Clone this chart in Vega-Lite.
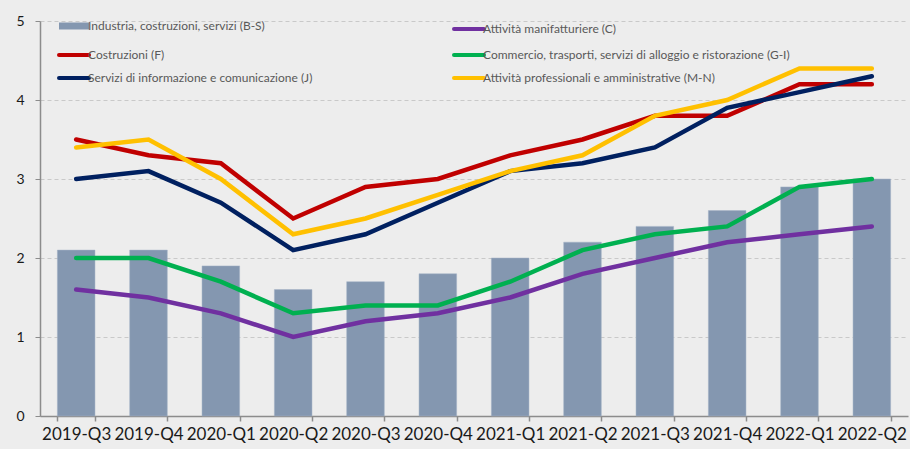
{
  "$schema": "https://vega.github.io/schema/vega-lite/v6.json",
  "autosize": {"type": "none"},
  "width": 868,
  "height": 395,
  "padding": {"left": 40, "top": 21, "right": 2, "bottom": 33},
  "background": "#ededed",
  "config": {
    "view": {"stroke": null},
    "font": "Lato",
    "axis": {"labelFont": "Lato", "titleFont": "Lato"},
    "legend": {"labelFont": "Lato"}
  },
  "datasets": {
    "d": [
      {"q": "2019-Q3", "s": "Industria, costruzioni, servizi (B-S)", "v": 2.1},
      {"q": "2019-Q4", "s": "Industria, costruzioni, servizi (B-S)", "v": 2.1},
      {"q": "2020-Q1", "s": "Industria, costruzioni, servizi (B-S)", "v": 1.9},
      {"q": "2020-Q2", "s": "Industria, costruzioni, servizi (B-S)", "v": 1.6},
      {"q": "2020-Q3", "s": "Industria, costruzioni, servizi (B-S)", "v": 1.7},
      {"q": "2020-Q4", "s": "Industria, costruzioni, servizi (B-S)", "v": 1.8},
      {"q": "2021-Q1", "s": "Industria, costruzioni, servizi (B-S)", "v": 2.0},
      {"q": "2021-Q2", "s": "Industria, costruzioni, servizi (B-S)", "v": 2.2},
      {"q": "2021-Q3", "s": "Industria, costruzioni, servizi (B-S)", "v": 2.4},
      {"q": "2021-Q4", "s": "Industria, costruzioni, servizi (B-S)", "v": 2.6},
      {"q": "2022-Q1", "s": "Industria, costruzioni, servizi (B-S)", "v": 2.9},
      {"q": "2022-Q2", "s": "Industria, costruzioni, servizi (B-S)", "v": 3.0},
      {"q": "2019-Q3", "s": "Attività manifatturiere (C)", "v": 1.6},
      {"q": "2019-Q4", "s": "Attività manifatturiere (C)", "v": 1.5},
      {"q": "2020-Q1", "s": "Attività manifatturiere (C)", "v": 1.3},
      {"q": "2020-Q2", "s": "Attività manifatturiere (C)", "v": 1.0},
      {"q": "2020-Q3", "s": "Attività manifatturiere (C)", "v": 1.2},
      {"q": "2020-Q4", "s": "Attività manifatturiere (C)", "v": 1.3},
      {"q": "2021-Q1", "s": "Attività manifatturiere (C)", "v": 1.5},
      {"q": "2021-Q2", "s": "Attività manifatturiere (C)", "v": 1.8},
      {"q": "2021-Q3", "s": "Attività manifatturiere (C)", "v": 2.0},
      {"q": "2021-Q4", "s": "Attività manifatturiere (C)", "v": 2.2},
      {"q": "2022-Q1", "s": "Attività manifatturiere (C)", "v": 2.3},
      {"q": "2022-Q2", "s": "Attività manifatturiere (C)", "v": 2.4},
      {"q": "2019-Q3", "s": "Costruzioni (F)", "v": 3.5},
      {"q": "2019-Q4", "s": "Costruzioni (F)", "v": 3.3},
      {"q": "2020-Q1", "s": "Costruzioni (F)", "v": 3.2},
      {"q": "2020-Q2", "s": "Costruzioni (F)", "v": 2.5},
      {"q": "2020-Q3", "s": "Costruzioni (F)", "v": 2.9},
      {"q": "2020-Q4", "s": "Costruzioni (F)", "v": 3.0},
      {"q": "2021-Q1", "s": "Costruzioni (F)", "v": 3.3},
      {"q": "2021-Q2", "s": "Costruzioni (F)", "v": 3.5},
      {"q": "2021-Q3", "s": "Costruzioni (F)", "v": 3.8},
      {"q": "2021-Q4", "s": "Costruzioni (F)", "v": 3.8},
      {"q": "2022-Q1", "s": "Costruzioni (F)", "v": 4.2},
      {"q": "2022-Q2", "s": "Costruzioni (F)", "v": 4.2},
      {"q": "2019-Q3", "s": "Commercio, trasporti, servizi di alloggio e ristorazione (G-I)", "v": 2.0},
      {"q": "2019-Q4", "s": "Commercio, trasporti, servizi di alloggio e ristorazione (G-I)", "v": 2.0},
      {"q": "2020-Q1", "s": "Commercio, trasporti, servizi di alloggio e ristorazione (G-I)", "v": 1.7},
      {"q": "2020-Q2", "s": "Commercio, trasporti, servizi di alloggio e ristorazione (G-I)", "v": 1.3},
      {"q": "2020-Q3", "s": "Commercio, trasporti, servizi di alloggio e ristorazione (G-I)", "v": 1.4},
      {"q": "2020-Q4", "s": "Commercio, trasporti, servizi di alloggio e ristorazione (G-I)", "v": 1.4},
      {"q": "2021-Q1", "s": "Commercio, trasporti, servizi di alloggio e ristorazione (G-I)", "v": 1.7},
      {"q": "2021-Q2", "s": "Commercio, trasporti, servizi di alloggio e ristorazione (G-I)", "v": 2.1},
      {"q": "2021-Q3", "s": "Commercio, trasporti, servizi di alloggio e ristorazione (G-I)", "v": 2.3},
      {"q": "2021-Q4", "s": "Commercio, trasporti, servizi di alloggio e ristorazione (G-I)", "v": 2.4},
      {"q": "2022-Q1", "s": "Commercio, trasporti, servizi di alloggio e ristorazione (G-I)", "v": 2.9},
      {"q": "2022-Q2", "s": "Commercio, trasporti, servizi di alloggio e ristorazione (G-I)", "v": 3.0},
      {"q": "2019-Q3", "s": "Servizi di informazione e comunicazione (J)", "v": 3.0},
      {"q": "2019-Q4", "s": "Servizi di informazione e comunicazione (J)", "v": 3.1},
      {"q": "2020-Q1", "s": "Servizi di informazione e comunicazione (J)", "v": 2.7},
      {"q": "2020-Q2", "s": "Servizi di informazione e comunicazione (J)", "v": 2.1},
      {"q": "2020-Q3", "s": "Servizi di informazione e comunicazione (J)", "v": 2.3},
      {"q": "2020-Q4", "s": "Servizi di informazione e comunicazione (J)", "v": 2.7},
      {"q": "2021-Q1", "s": "Servizi di informazione e comunicazione (J)", "v": 3.1},
      {"q": "2021-Q2", "s": "Servizi di informazione e comunicazione (J)", "v": 3.2},
      {"q": "2021-Q3", "s": "Servizi di informazione e comunicazione (J)", "v": 3.4},
      {"q": "2021-Q4", "s": "Servizi di informazione e comunicazione (J)", "v": 3.9},
      {"q": "2022-Q1", "s": "Servizi di informazione e comunicazione (J)", "v": 4.1},
      {"q": "2022-Q2", "s": "Servizi di informazione e comunicazione (J)", "v": 4.3},
      {"q": "2019-Q3", "s": "Attività professionali e amministrative (M-N)", "v": 3.4},
      {"q": "2019-Q4", "s": "Attività professionali e amministrative (M-N)", "v": 3.5},
      {"q": "2020-Q1", "s": "Attività professionali e amministrative (M-N)", "v": 3.0},
      {"q": "2020-Q2", "s": "Attività professionali e amministrative (M-N)", "v": 2.3},
      {"q": "2020-Q3", "s": "Attività professionali e amministrative (M-N)", "v": 2.5},
      {"q": "2020-Q4", "s": "Attività professionali e amministrative (M-N)", "v": 2.8},
      {"q": "2021-Q1", "s": "Attività professionali e amministrative (M-N)", "v": 3.1},
      {"q": "2021-Q2", "s": "Attività professionali e amministrative (M-N)", "v": 3.3},
      {"q": "2021-Q3", "s": "Attività professionali e amministrative (M-N)", "v": 3.8},
      {"q": "2021-Q4", "s": "Attività professionali e amministrative (M-N)", "v": 4.0},
      {"q": "2022-Q1", "s": "Attività professionali e amministrative (M-N)", "v": 4.4},
      {"q": "2022-Q2", "s": "Attività professionali e amministrative (M-N)", "v": 4.4}
    ]
  },
  "data": {"name": "d"},
  "encoding": {
    "x": {
      "field": "q", "type": "nominal", "title": null,
      "scale": {"paddingInner": 0.48, "paddingOuter": 0.24},
      "axis": {
        "labelAngle": 0, "labelFontSize": 17, "labelColor": "#1a1a1a", "labelPadding": 5,
        "tickBand": "extent", "tickSize": 5, "tickColor": "#8c8c8c",
        "domainColor": "#8c8c8c", "domainWidth": 1.5, "tickWidth": 1.5
      }
    },
    "y": {
      "field": "v", "type": "quantitative", "title": null,
      "scale": {"domain": [0, 5], "nice": false},
      "axis": {
        "values": [0, 1, 2, 3, 4, 5], "labelFontSize": 14, "labelColor": "#1a1a1a",
        "labelPadding": 11, "tickSize": 5, "tickColor": "#8c8c8c", "domainColor": "#8c8c8c",
        "domainWidth": 1.5, "grid": true, "gridColor": "#c9c9c9", "gridDash": [4, 3],
        "gridWidth": 1
      }
    },
    "color": {
      "field": "s", "type": "nominal",
      "scale": {
        "domain": [
          "Industria, costruzioni, servizi (B-S)",
          "Costruzioni (F)",
          "Servizi di informazione e comunicazione (J)",
          "Attività manifatturiere (C)",
          "Commercio, trasporti, servizi di alloggio e ristorazione (G-I)",
          "Attività professionali e amministrative (M-N)"
        ],
        "range": ["#8497b0", "#c00000", "#002060", "#7030a0", "#00b050", "#ffc000"]
      },
      "legend": {
        "title": null, "orient": "none", "legendX": 28, "legendY": -1, "columns": 2,
        "symbolType": "stroke", "symbolSize": 900, "symbolStrokeWidth": 4,
        "labelFontSize": 12, "labelColor": "#595959", "labelOffset": 8, "labelLimit": 500,
        "columnPadding": 133, "rowPadding": 7,
        "encode": {
          "symbols": {
            "update": {
              "size": {"value": 900},
              "stroke": {"scale": "color", "field": "value"},
              "strokeWidth": {"signal": "datum.value === 'Industria, costruzioni, servizi (B-S)' ? 7 : 4"},
              "strokeCap": {"signal": "datum.value === 'Industria, costruzioni, servizi (B-S)' ? 'butt' : 'round'"}
            }
          }
        }
      }
    }
  },
  "layer": [
    {
      "transform": [{"filter": "datum.s === 'Industria, costruzioni, servizi (B-S)'"}],
      "mark": {"type": "bar", "stroke": "#a4b2c6", "strokeWidth": 0.5}
    },
    {
      "transform": [{"filter": "datum.s !== 'Industria, costruzioni, servizi (B-S)'"}],
      "mark": {"type": "line", "strokeWidth": 4.5, "strokeCap": "round", "strokeJoin": "miter"}
    }
  ]
}
